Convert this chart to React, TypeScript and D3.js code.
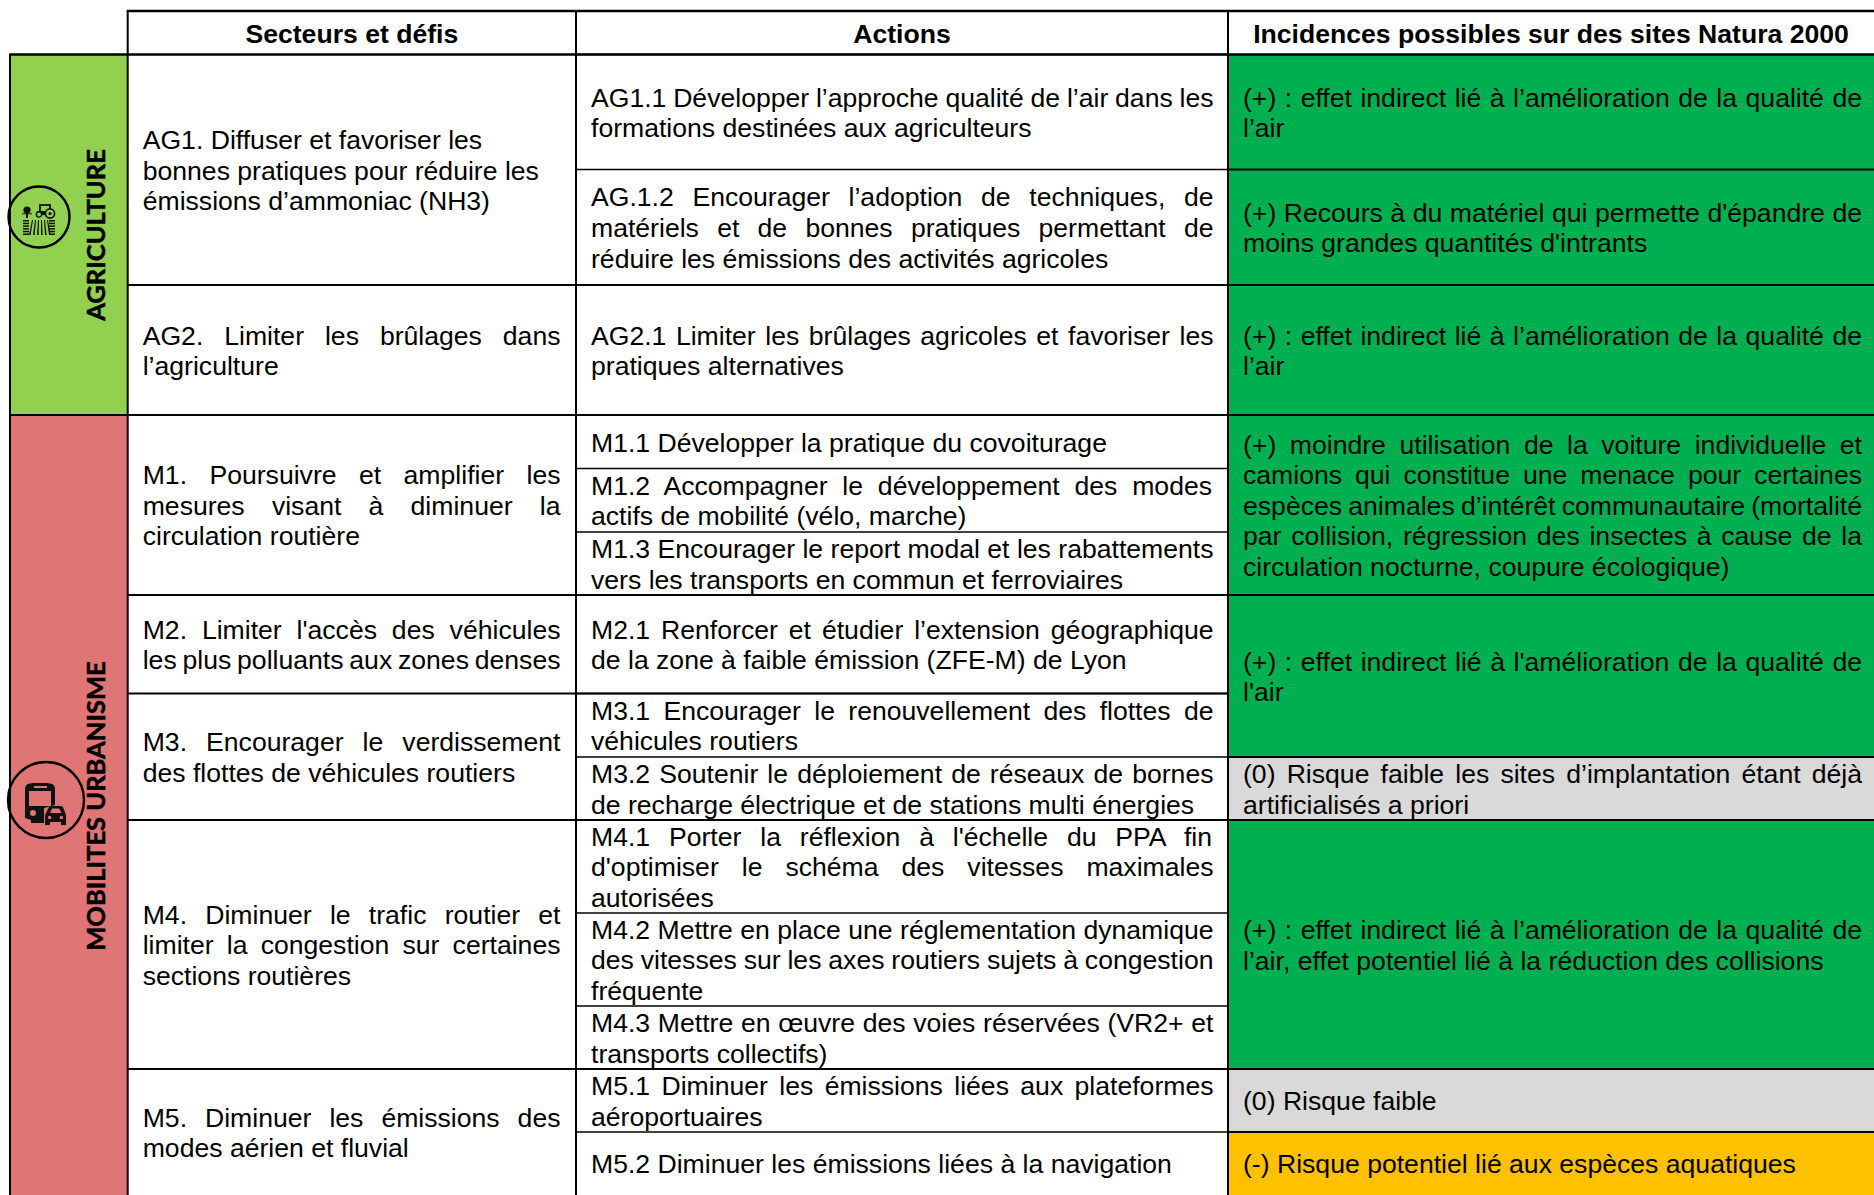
import React from "react";
import * as d3 from "d3";

const W = 1874, H = 1195;
const SANS = "'Liberation Sans', Arial, sans-serif";
const FS = 26.6;
const LH = 30.6;

const headers = ["Secteurs et défis", "Actions", "Incidences possibles sur des sites Natura 2000"];

const rowEdges = [54.5, 169.5, 285, 415, 468.5, 532, 595, 693.5, 757, 820, 913, 1006, 1069, 1132, 1195];
const columnEdges = [10, 127.7, 576, 1228, 1874];
const textRight = [0, 560.5, 1213.5, 1862];

const domains = [
  { label: "AGRICULTURE", from: 0, to: 3, color: "#92D050", labelY: 235 },
  { label: "MOBILITES URBANISME", from: 3, to: 14, color: "#E07575", labelY: 806 },
];

const sectors = [
  { from: 0, to: 2, justify: false, lines: ["AG1. Diffuser et favoriser les", "bonnes pratiques pour réduire les", "émissions d’ammoniac (NH3)"] },
  { from: 2, to: 3, justify: true, lines: ["AG2. Limiter les brûlages dans", "l’agriculture"] },
  { from: 3, to: 6, justify: true, lines: ["M1. Poursuivre et amplifier les", "mesures visant à diminuer la", "circulation routière"] },
  { from: 6, to: 7, justify: true, lines: ["M2. Limiter l'accès des véhicules", "les plus polluants aux zones denses"] },
  { from: 7, to: 9, justify: true, lines: ["M3. Encourager le verdissement", "des flottes de véhicules routiers"] },
  { from: 9, to: 12, justify: true, lines: ["M4. Diminuer le trafic routier et", "limiter la congestion sur certaines", "sections routières"] },
  { from: 12, to: 14, justify: true, lines: ["M5. Diminuer les émissions des", "modes aérien et fluvial"] },
];

const actions = [
  ["AG1.1 Développer l’approche qualité de l’air dans les", "formations destinées aux agriculteurs"],
  ["AG.1.2 Encourager l’adoption de techniques, de", "matériels et de bonnes pratiques permettant de", "réduire les émissions des activités agricoles"],
  ["AG2.1 Limiter les brûlages agricoles et favoriser les", "pratiques alternatives"],
  ["M1.1 Développer la pratique du covoiturage"],
  ["M1.2 Accompagner le développement des modes", "actifs de mobilité (vélo, marche)"],
  ["M1.3 Encourager le report modal et les rabattements", "vers les transports en commun et ferroviaires"],
  ["M2.1 Renforcer et étudier l’extension géographique", "de la zone à faible émission (ZFE-M) de Lyon"],
  ["M3.1 Encourager le renouvellement des flottes de", "véhicules routiers"],
  ["M3.2 Soutenir le déploiement de réseaux de bornes", "de recharge électrique et de stations multi énergies"],
  ["M4.1 Porter la réflexion à l'échelle du PPA fin", "d'optimiser le schéma des vitesses maximales", "autorisées"],
  ["M4.2 Mettre en place une réglementation dynamique", "des vitesses sur les axes routiers sujets à congestion", "fréquente"],
  ["M4.3 Mettre en œuvre des voies réservées (VR2+ et", "transports collectifs)"],
  ["M5.1 Diminuer les émissions liées aux plateformes", "aéroportuaires"],
  ["M5.2 Diminuer les émissions liées à la navigation"],
];

const impactColors: Record<string, string> = { plus: "#00B050", zero: "#D9D9D9", minus: "#FFC000" };

const impacts = [
  { from: 0, to: 1, kind: "plus", lines: ["(+) : effet indirect lié à l’amélioration de la qualité de", "l’air"] },
  { from: 1, to: 2, kind: "plus", lines: ["(+) Recours à du matériel qui permette d'épandre de", "moins grandes quantités d'intrants"] },
  { from: 2, to: 3, kind: "plus", lines: ["(+) : effet indirect lié à l’amélioration de la qualité de", "l’air"] },
  { from: 3, to: 6, kind: "plus", lines: ["(+) moindre utilisation de la voiture individuelle et", "camions qui constitue une menace pour certaines", "espèces animales d’intérêt communautaire (mortalité", "par collision, régression des insectes à cause de la", "circulation nocturne, coupure écologique)"] },
  { from: 6, to: 8, kind: "plus", lines: ["(+) : effet indirect lié à l'amélioration de la qualité de", "l'air"] },
  { from: 8, to: 9, kind: "zero", lines: ["(0) Risque faible les sites d’implantation étant déjà", "artificialisés a priori"] },
  { from: 9, to: 12, kind: "plus", lines: ["(+) : effet indirect lié à l’amélioration de la qualité de", "l’air, effet potentiel lié à la réduction des collisions"] },
  { from: 12, to: 13, kind: "zero", lines: ["(0) Risque faible"] },
  { from: 13, to: 14, kind: "minus", lines: ["(-) Risque potentiel lié aux espèces aquatiques"] },
];

const y = d3.scaleLinear().domain(d3.range(rowEdges.length)).range(rowEdges);
const x = d3.scaleLinear().domain(d3.range(columnEdges.length)).range(columnEdges);

const ctx = document.createElement("canvas").getContext("2d")!;
function measure(s: string) {
  ctx.font = `${FS}px "Liberation Sans"`;
  return ctx.measureText(s).width;
}

function Block({ col, from, to, lines, justify = true }: { col: number; from: number; to: number; lines: string[]; justify?: boolean }) {
  const left = x(col) + 15;
  const right = textRight[col];
  const mid = (y(from) + y(to)) / 2 + 0.5;
  const first = mid - ((lines.length - 1) * LH) / 2;
  return (
    <g>
      {lines.map((line, i) => {
        const gaps = line.split(" ").length - 1;
        const room = right - left - measure(line);
        const fill = justify && i < lines.length - 1;
        const extra = gaps > 0 && (fill || room < 0) ? room / gaps : 0;
        return (
          <text key={i} x={left} y={first + i * LH} dy="0.35em" fontSize={FS} fontFamily={SANS} fill="#000" wordSpacing={extra} style={{ whiteSpace: "pre" }}>
            {line}
          </text>
        );
      })}
    </g>
  );
}

function FarmIcon({ cx, cy }: { cx: number; cy: number }) {
  const stripes = d3.range(0, 6);
  return (
    <g transform={`translate(${cx},${cy})`} fill="#111">
      <circle cx={-12} cy={-7} r={3.6} />
      <rect x={-13} y={-4} width={2} height={5} />
      <rect x={-17} y={-4} width={10} height={1.4} opacity={0.7} />
      <rect x={1} y={-12} width={10} height={7} fill="none" stroke="#111" strokeWidth={1.8} />
      <rect x={-2} y={-6} width={11} height={4} />
      <circle cx={0} cy={-2.5} r={2.6} fill="#92D050" stroke="#111" strokeWidth={1.4} />
      <circle cx={11} cy={-3.5} r={4.6} fill="#92D050" stroke="#111" strokeWidth={1.6} />
      <circle cx={11} cy={-3.5} r={1.6} />
      {stripes.map((i) => (
        <g key={i}>
          <rect x={-16} y={3 + i * 2.7} width={6} height={1.5} />
          <rect x={10} y={3 + i * 2.7} width={6} height={1.5} />
          <path d={`M${-7 + i * 3},3 L${-10 + i * 4},18 L${-8.4 + i * 4},18 L${-6 + i * 3},3Z`} />
        </g>
      ))}
    </g>
  );
}

function BusIcon({ cx, cy }: { cx: number; cy: number }) {
  return (
    <g transform={`translate(${cx},${cy})`} fill="#111">
      <path fillRule="evenodd" d="M-21,-14 Q-21,-20 -13,-20 L1,-20 Q9,-20 9,-14 L9,2 L-2,5 L-2,20 L-15,20 L-15,17 L-21,15 Z M-17,-12 L-17,3 L5,3 L5,-12 Z" />
      <rect x={-12} y={-17} width={13} height={2} fill="#E07575" />
      <circle cx={-13} cy={10} r={3} fill="#E07575" />
      <path fillRule="evenodd" d="M-1,12 L3,4 Q4,3 6,3 L14,3 Q16,3 17,4 L20,12 L20,22 L15,22 L15,19 L4,19 L4,22 L-1,22 Z M4,10 L15.5,10 L13,5.5 L6,5.5 Z" />
      <circle cx={3.6} cy={14.5} r={1.7} fill="#E07575" />
      <circle cx={15.4} cy={14.5} r={1.7} fill="#E07575" />
    </g>
  );
}

export default function App() {
  return (
    <svg width={W} height={H} viewBox={`0 0 ${W} ${H}`} style={{ position: "absolute", left: 0, top: 0, display: "block", background: "#fff" }}>
      {domains.map((d) => (
        <rect key={d.label} x={x(0)} y={y(d.from)} width={x(1) - x(0)} height={y(d.to) - y(d.from)} fill={d.color} />
      ))}
      {impacts.map((c, i) => (
        <rect key={i} x={x(3)} y={y(c.from)} width={x(4) - x(3)} height={y(c.to) - y(c.from)} fill={impactColors[c.kind]} />
      ))}

      {actions.map((_, i) => (
        <line key={i} x1={x(2)} x2={x(3)} y1={y(i)} y2={y(i)} stroke="#000" strokeWidth={1.7} />
      ))}
      {impacts.map((c, i) => (
        <line key={i} x1={x(3)} x2={x(4)} y1={y(c.from)} y2={y(c.from)} stroke="#000" strokeWidth={2} />
      ))}
      {sectors.map((c, i) => (
        <line key={i} x1={x(1)} x2={x(3)} y1={y(c.from)} y2={y(c.from)} stroke="#000" strokeWidth={2} />
      ))}
      {domains.map((d) => (
        <line key={d.label} x1={x(0)} x2={x(1)} y1={y(d.from)} y2={y(d.from)} stroke="#000" strokeWidth={2} />
      ))}
      <line x1={x(1) - 1} x2={W} y1={11} y2={11} stroke="#000" strokeWidth={2.4} />
      <line x1={x(1)} x2={x(1)} y1={11} y2={H} stroke="#000" strokeWidth={2} />
      <line x1={x(2)} x2={x(2)} y1={11} y2={H} stroke="#000" strokeWidth={2} />
      <line x1={x(3)} x2={x(3)} y1={11} y2={H} stroke="#000" strokeWidth={2} />
      <line x1={x(0)} x2={x(0)} y1={y(0)} y2={H} stroke="#000" strokeWidth={2} />
      <line x1={x(0) - 1} x2={x(4)} y1={y(0)} y2={y(0)} stroke="#000" strokeWidth={2} />

      {headers.map((h, i) => (
        <text key={h} x={(x(i + 1) + x(i + 2)) / 2} y={33.5} dy="0.35em" textAnchor="middle" fontSize={FS} fontWeight={700} fontFamily={SANS}>
          {h}
        </text>
      ))}

      {domains.map((d) => (
        <text key={d.label} transform={`translate(96,${d.labelY}) rotate(-90)`} textAnchor="middle" dy="0.36em" fontSize={25.5} fontWeight={700} fontFamily="Lato, sans-serif" fill="#000" stroke="#000" strokeWidth={0.5}>
          {d.label}
        </text>
      ))}

      <circle cx={39} cy={217} r={30.5} fill="none" stroke="#000" strokeWidth={2.4} />
      <FarmIcon cx={39} cy={217} />
      <circle cx={46} cy={800} r={38} fill="none" stroke="#000" strokeWidth={2.4} />
      <BusIcon cx={46} cy={803} />

      {sectors.map((s, i) => (
        <Block key={i} col={1} from={s.from} to={s.to} lines={s.lines} justify={s.justify} />
      ))}
      {actions.map((lines, i) => (
        <Block key={i} col={2} from={i} to={i + 1} lines={lines} />
      ))}
      {impacts.map((c, i) => (
        <Block key={i} col={3} from={c.from} to={c.to} lines={c.lines} />
      ))}
    </svg>
  );
}
